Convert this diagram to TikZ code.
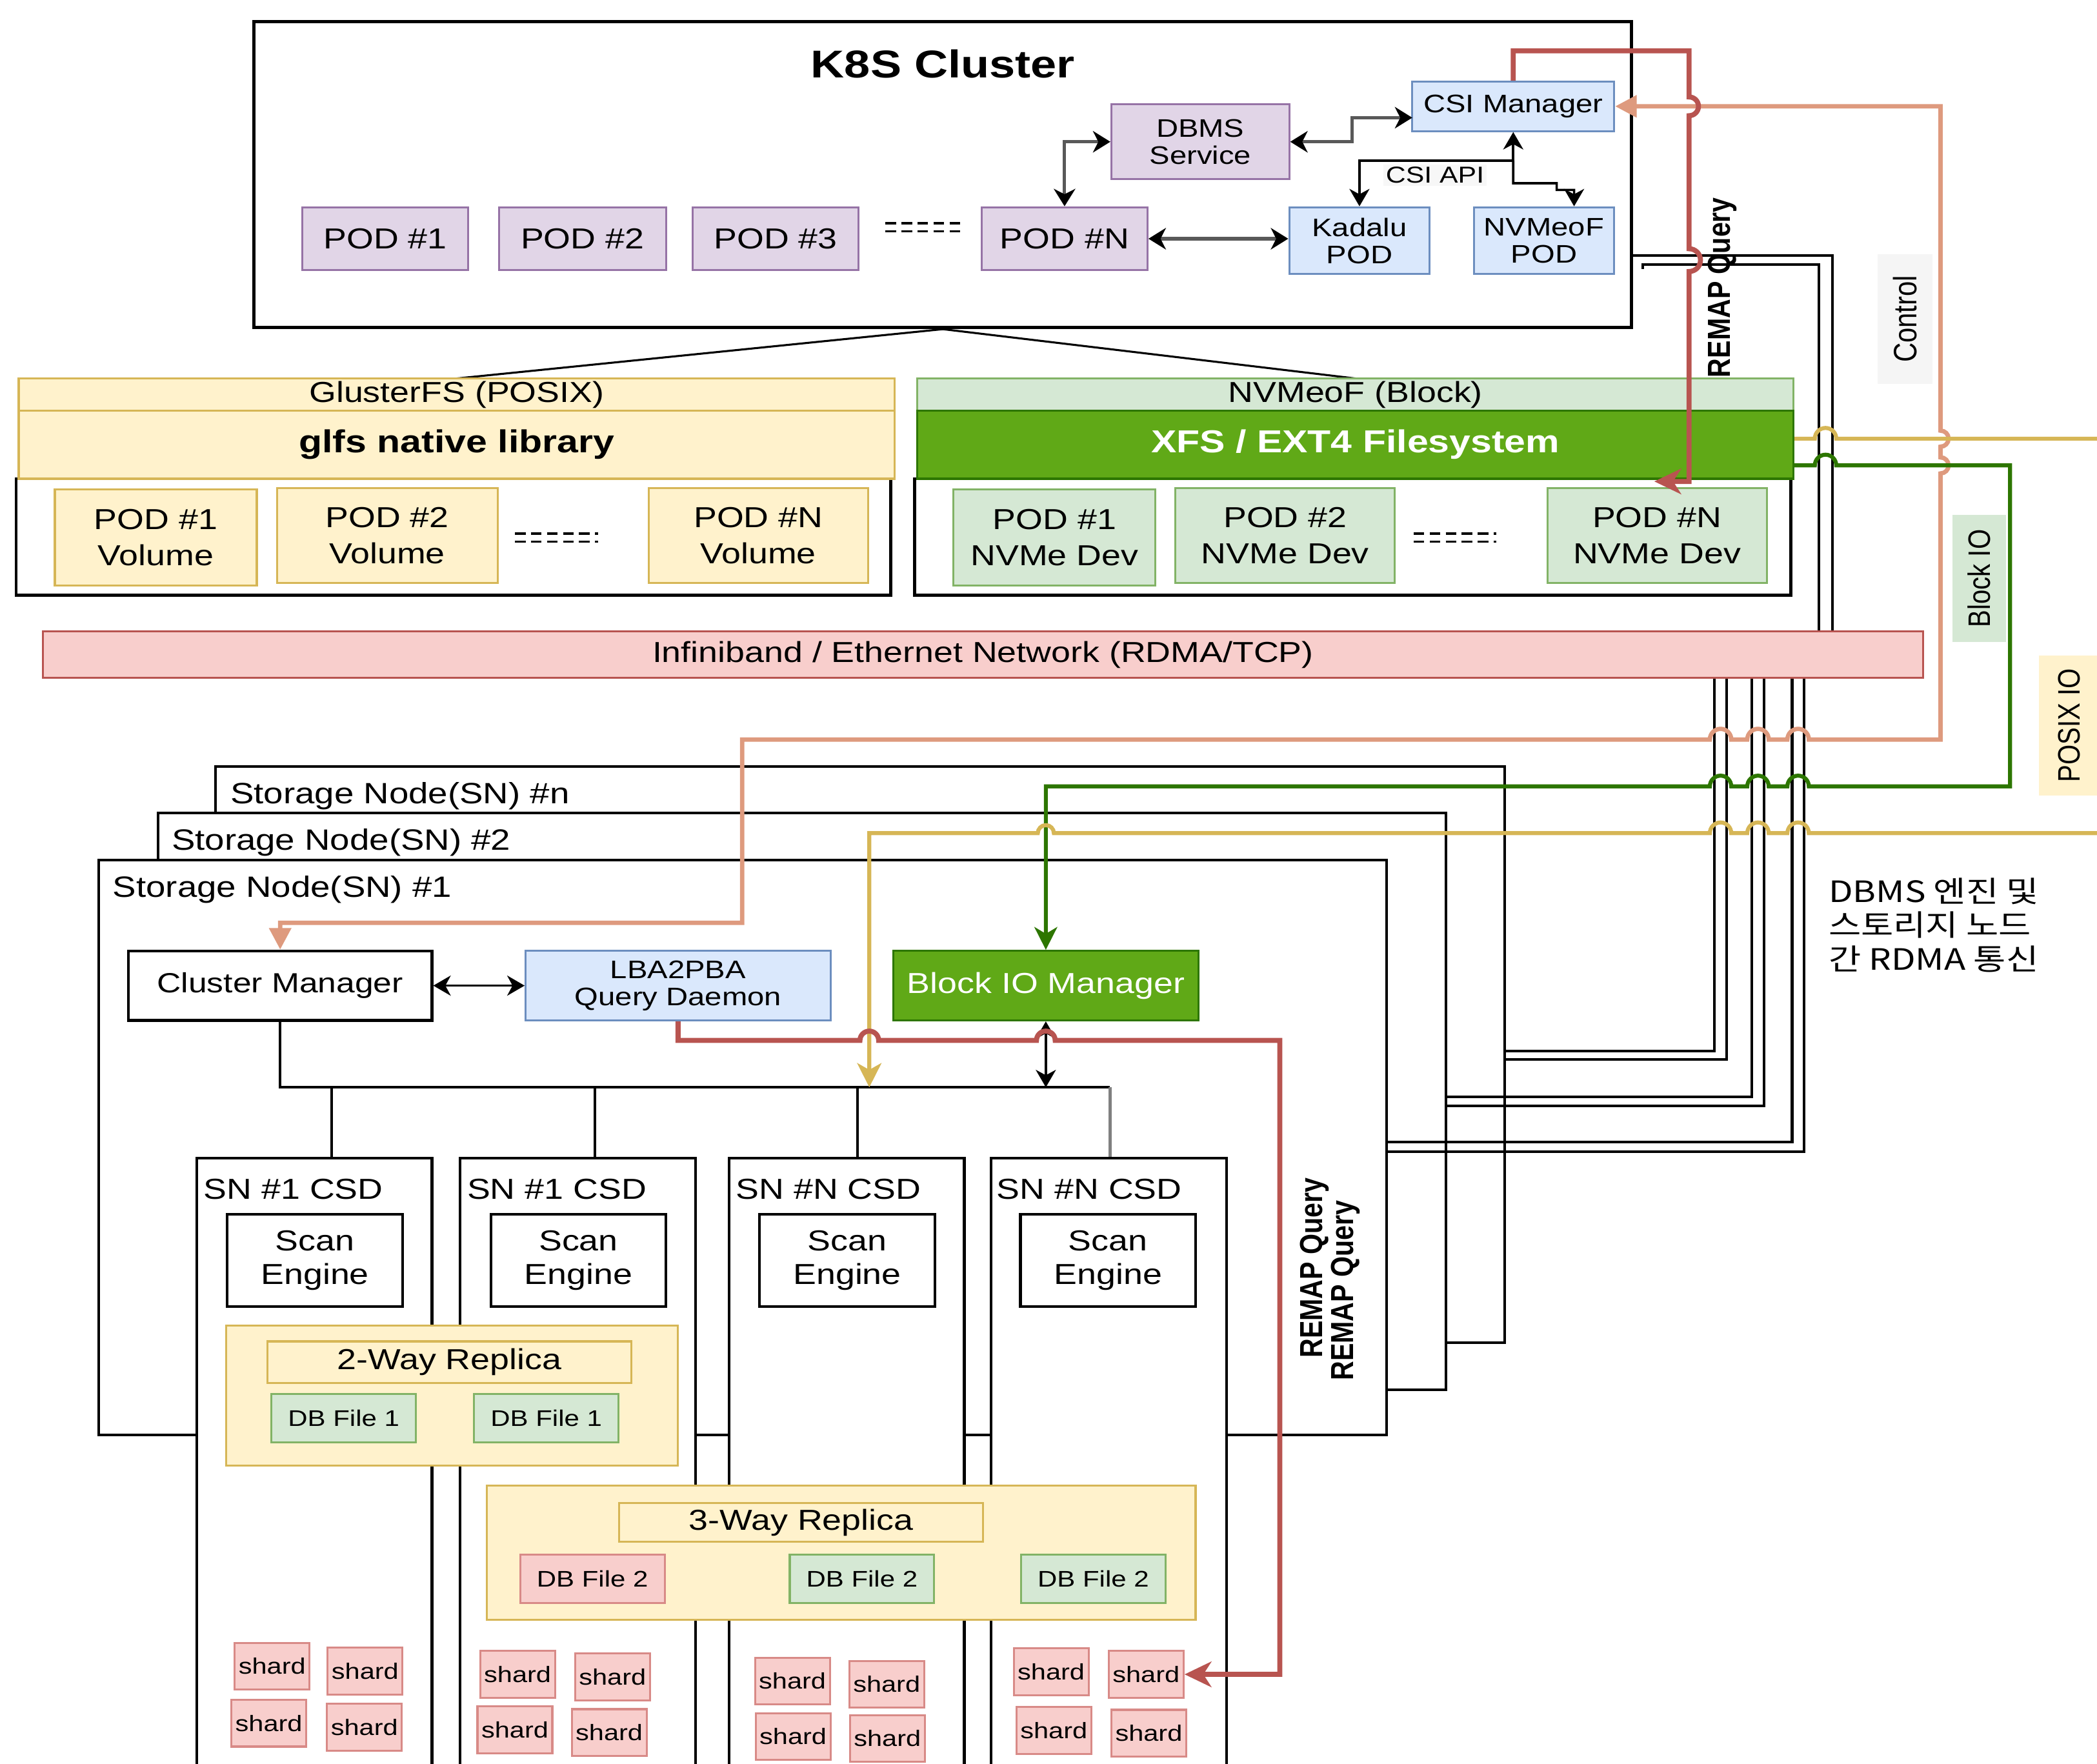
\documentclass[tikz,border=0pt]{standalone}
\usepackage{fontspec}
\usepackage{graphicx}
\setmainfont{Liberation Sans}[FakeStretch=1.2]
\newfontfamily\plainsans{Liberation Sans}
\newfontfamily\hangul{Noto Sans CJK KR}[FakeStretch=1.2]
\usetikzlibrary{arrows.meta}

\definecolor{podfill}{HTML}{E1D5E7}
\definecolor{podline}{HTML}{9673A6}
\definecolor{csifill}{HTML}{DAE8FC}
\definecolor{csiline}{HTML}{6C8EBF}
\definecolor{yelfill}{HTML}{FFF2CC}
\definecolor{yelline}{HTML}{D6B656}
\definecolor{grnfill}{HTML}{D5E8D4}
\definecolor{grnline}{HTML}{82B366}
\definecolor{xfsfill}{HTML}{60A917}
\definecolor{xfsline}{HTML}{2D7600}
\definecolor{redfill}{HTML}{F8CECC}
\definecolor{redline}{HTML}{B85450}
\definecolor{shardline}{HTML}{D88A87}
\definecolor{ctrlline}{HTML}{DE9A7E}
\definecolor{taggray}{HTML}{F5F5F5}

\newcommand{\fmain}{\fontsize{12.3}{15.3}\selectfont}
\newcommand{\fsmall}{\fontsize{10.8}{11.6}\selectfont}
\newcommand{\ftiny}{\fontsize{9.5}{11}\selectfont}
\newcommand{\fhead}{\fontsize{13.5}{16}\selectfont}

\tikzset{
  sz/.style 2 args={minimum width=#1*0.2mm, minimum height=#2*0.2mm},
  box/.style={rectangle, draw, line width=0.3mm, inner xsep=1pt, inner ysep=0pt, align=center, font=\fmain},
  pod/.style={box, fill=podfill, draw=podline},
  bluebox/.style={box, fill=csifill, draw=csiline, font=\fsmall},
  yelbox/.style={box, fill=yelfill, draw=yelline},
  grnbox/.style={box, fill=grnfill, draw=grnline},
  xfsbox/.style={box, fill=xfsfill, draw=xfsline, text=white, font=\bfseries\fhead},
  redbox/.style={box, fill=redfill, draw=redline},
  blackbox/.style={box, fill=white, draw=black, line width=0.4mm},
  shard/.style={box, fill=redfill, draw=shardline, font=\ftiny, sz={56}{35}},
  dbfile/.style={box, font=\fontsize{9.6}{11}\selectfont, sz={108}{36}},
  vtag/.style={rotate=90, inner sep=0pt, font=\plainsans\fontsize{11}{13}\selectfont}
}

\begin{document}
\begin{tikzpicture}[x=0.2mm, y=-0.2mm, font=\fmain, >={Stealth[length=2.6mm,width=3mm,inset=0.8mm]}]
  \tikzstyle{kline}=[line width=0.5mm, black!65, >={Stealth[color=black,length=2.6mm,width=3.2mm,inset=0.8mm]}]
  \tikzstyle{thinarrow}=[line width=0.35mm, black]
  \tikzstyle{rdma}=[line width=0.4mm, black]
  \tikzstyle{dotrow}=[line width=0.35mm, dash pattern=on 1.6mm off 0.8mm]
  \tikzstyle{remappath}=[draw=redline, line width=0.75mm, -{Stealth[length=4mm,width=3.8mm,inset=1.2mm]}]
  \tikzstyle{ctrlpath}=[draw=ctrlline, line width=0.65mm, {Triangle[length=3.2mm,width=3.2mm]}-{Triangle[length=3.2mm,width=3.2mm]}]
  \tikzstyle{blockpath}=[draw=xfsline, line width=0.6mm, -{Stealth[length=3.4mm,width=3.4mm,inset=1mm]}]
  \tikzstyle{posixpath}=[draw=yelline, line width=0.6mm, -{Stealth[length=3.6mm,width=3.6mm,inset=1mm]}]

  \useasboundingbox (0,0) rectangle (1568,1319);
  \clip (0,0) rectangle (1568,1319);

  % K8S cluster
  \node[blackbox, line width=0.45mm, sz={1030}{229}] (k8s) at (705,130.5) {};
  \node[font=\bfseries\fontsize{16.5}{18}\selectfont] (k8s_t) at (705,48) {K8S Cluster};
  \node[pod, font=\fsmall, sz={133}{56}] (dbms) at (897.5,106) {DBMS\\Service};
  \node[bluebox, sz={151}{37}] (csimgr) at (1131.5,79.5) {CSI Manager};
  \node[pod, sz={124}{47}] (pod_1) at (288,178.5) {POD \#1};
  \node[pod, sz={125}{47}] (pod_2) at (435.5,178.5) {POD \#2};
  \node[pod, sz={124}{47}] (pod_3) at (580,178.5) {POD \#3};
  \node[pod, sz={124}{47}] (pod_n) at (796,178.5) {POD \#N};
  \node[bluebox, sz={105}{50}] (kadalu) at (1016.5,180) {Kadalu\\POD};
  \node[bluebox, sz={105}{50}] (nvpod) at (1154.5,180) {NVMeoF\\POD};
  \draw[dotrow] (662,167) -- (722,167);
  \draw[dotrow] (662,173) -- (722,173);

  \draw[kline, <->] (pod_n.east) -- (pod_n.east -| kadalu.west);
  \draw[kline, <->] (dbms.west) -| (pod_n.north);
  \coordinate (csi_in) at (1056,88);
  \draw[kline, <->] (dbms.east) -- (1011,106) |- (csi_in);
  \coordinate (api) at (1131.5,120);
  \draw[thinarrow, <->] (csimgr.south) -- (api) -| (kadalu.north);
  \draw[thinarrow, ->] (api) -- (1131.5,137) -- (1164,137) -- (1164,142) -- (1177,142) -- ([xshift=4.5mm]nvpod.north);
  \node[fill=gray!6, inner sep=1pt, font=\fontsize{9.8}{11}\selectfont] (api_t) at (1073,131) {CSI API};

  % GlusterFS side
  \draw[line width=0.3mm] (k8s.south) -- (341.5,283);
  \draw[line width=0.3mm] (k8s.south) -- (1013.5,283);
  \node[blackbox, line width=0.45mm, sz={654}{87}] (gl_box) at (339,401.5) {};
  \node[yelbox, sz={655}{24}] (gl_head) at (341.5,295) {GlusterFS (POSIX)};
  \node[yelbox, sz={655}{51}, font=\bfseries\fhead] (gl_lib) at (341.5,332.5) {glfs native library};
  \node[yelbox, sz={151}{72}] (vol_1) at (116.5,402) {POD \#1\\Volume};
  \node[yelbox, sz={165}{71}] (vol_2) at (289.5,400.5) {POD \#2\\Volume};
  \node[yelbox, sz={164}{71}] (vol_n) at (567,400.5) {POD \#N\\Volume};
  \draw[dotrow] (385,399) -- (447,399);
  \draw[dotrow] (385,405) -- (447,405);

  % NVMeoF side
  \node[blackbox, line width=0.45mm, sz={655}{87}] (nv_box) at (1011.5,401.5) {};
  \node[grnbox, sz={655}{24}] (nv_head) at (1013.5,295) {NVMeoF (Block)};
  \node[xfsbox, sz={655}{51}] (xfs) at (1013.5,332.5) {XFS / EXT4 Filesystem};
  \node[grnbox, sz={151}{72}] (dev_1) at (788.5,402) {POD \#1\\NVMe Dev};
  \node[grnbox, sz={164}{71}] (dev_2) at (961,400.5) {POD \#2\\NVMe Dev};
  \node[grnbox, sz={164}{71}] (dev_n) at (1239,400.5) {POD \#N\\NVMe Dev};
  \draw[dotrow] (1057,399) -- (1119,399);
  \draw[dotrow] (1057,405) -- (1119,405);

  \node[redbox, sz={1406}{35}] (ib) at (735,489.5) {Infiniband / Ethernet Network (RDMA/TCP)};

  % side tags
  \node[vtag, fill=taggray, sz={97}{41}, font=\plainsans\fontsize{11.5}{13}\selectfont] (ctrl_t) at (1424.5,238.5) {\scalebox{1}[1.2]{Control}};
  \node[vtag, fill=grnfill, sz={95}{40}] (blk_t) at (1480,432.5) {\scalebox{1}[1.2]{Block IO}};
  \node[vtag, fill=yelfill, sz={105}{45}] (posix_t) at (1547,542.5) {\scalebox{1}[1.2]{POSIX IO}};
  \node[vtag, font=\plainsans\bfseries\fontsize{11.3}{13}\selectfont] (remap_k) at (1288,215) {\scalebox{1}[1.2]{REMAP Query}};
  \node[anchor=north west, align=left, inner sep=0pt, font=\hangul\fontsize{12.5}{14.5}\selectfont] (note) at (1367,656) {DBMS 엔진 및\\스토리지 노드\\간 RDMA 통신};

  % storage nodes
  \node[blackbox, sz={964}{431}] (sn_n) at (643,788.5) {};
  \node[anchor=west, inner sep=0pt, font=\fontsize{12.5}{15}\selectfont] (sn_nt) at (172,595) {Storage Node(SN) \#n};
  \node[blackbox, sz={963}{431}] (sn_2) at (599.5,823.5) {};
  \node[anchor=west, inner sep=0pt, font=\fontsize{12.5}{15}\selectfont] (sn_2t) at (128,630) {Storage Node(SN) \#2};
  \node[blackbox, sz={963}{430}] (sn_1) at (555.5,858) {};
  \node[anchor=west, inner sep=0pt, font=\fontsize{12.5}{15}\selectfont] (sn_1t) at (84,665) {Storage Node(SN) \#1};

  \node[blackbox, sz={227}{52}, font=\fontsize{11.8}{14}\selectfont] (clmgr) at (209.5,737) {Cluster Manager};
  \node[bluebox, sz={228}{52}] (lba) at (507,737) {LBA2PBA\\Query Daemon};
  \node[xfsbox, font=\fmain, sz={228}{52}] (blk_mgr) at (782,737) {Block IO Manager};
  \draw[thinarrow, <->] (clmgr.east) -- (lba.west);

  % computational storage devices
  \node[blackbox, sz={176}{474}] (csd_1) at (235,1103) {};
  \node[blackbox, sz={176}{474}] (csd_2) at (432,1103) {};
  \node[blackbox, sz={176}{474}] (csd_3) at (633,1103) {};
  \node[blackbox, sz={176}{474}] (csd_4) at (829,1103) {};
  \node[anchor=west, inner sep=0pt] (csd_1t) at (152,889) {SN \#1 CSD};
  \node[anchor=west, inner sep=0pt] (csd_2t) at (349,889) {SN \#1 CSD};
  \node[anchor=west, inner sep=0pt] (csd_3t) at (550,889) {SN \#N CSD};
  \node[anchor=west, inner sep=0pt] (csd_4t) at (745,889) {SN \#N CSD};
  \node[blackbox, sz={131}{69}, font=\fontsize{12.3}{14.2}\selectfont] (scan_1) at (235.5,942.5) {Scan\\Engine};
  \node[blackbox, sz={131}{69}, font=\fontsize{12.3}{14.2}\selectfont] (scan_2) at (432.5,942.5) {Scan\\Engine};
  \node[blackbox, sz={131}{69}, font=\fontsize{12.3}{14.2}\selectfont] (scan_3) at (633.5,942.5) {Scan\\Engine};
  \node[blackbox, sz={131}{69}, font=\fontsize{12.3}{14.2}\selectfont] (scan_4) at (828.5,942.5) {Scan\\Engine};

  \coordinate (bus_r) at (830,813);
  \draw[line width=0.4mm] (clmgr.south) |- (bus_r);
  \draw[line width=0.4mm] ([xshift=2.6mm]csd_1.north) |- (bus_r);
  \draw[line width=0.4mm] ([xshift=2.6mm]csd_2.north) |- (bus_r);
  \draw[line width=0.4mm] ([xshift=1.6mm]csd_3.north) |- (bus_r);
  \draw[line width=0.5mm, gray] (bus_r) -- ([xshift=0.2mm]csd_4.north);
  \draw[thinarrow, <->] (blk_mgr.south) -- (blk_mgr.south |- bus_r);

  % replicas
  \node[yelbox, sz={338}{105}] (rep_2) at (338,1043.5) {};
  \node[yelbox, sz={272}{31}] (rep_2t) at (336,1018.5) {2-Way Replica};
  \node[dbfile, fill=grnfill, draw=grnline] (db_1a) at (257,1060.5) {DB File 1};
  \node[dbfile, fill=grnfill, draw=grnline] (db_1b) at (408.5,1060.5) {DB File 1};
  \node[yelbox, sz={530}{100}] (rep_3) at (629,1161) {};
  \node[yelbox, sz={272}{29}] (rep_3t) at (599,1138.5) {3-Way Replica};
  \node[dbfile, fill=redfill, draw=shardline] (db_2a) at (443,1180.5) {DB File 2};
  \node[dbfile, fill=grnfill, draw=grnline] (db_2b) at (644.5,1180.5) {DB File 2};
  \node[dbfile, fill=grnfill, draw=grnline] (db_2c) at (817.5,1180.5) {DB File 2};

  % shards
  \node[shard] (sh_11) at (203.5,1246) {shard};
  \node[shard] (sh_12) at (273,1249.5) {shard};
  \node[shard] (sh_13) at (201,1288.5) {shard};
  \node[shard] (sh_14) at (272.5,1291.5) {shard};
  \node[shard] (sh_21) at (387,1252) {shard};
  \node[shard] (sh_22) at (458,1254) {shard};
  \node[shard] (sh_23) at (385,1293.5) {shard};
  \node[shard] (sh_24) at (455.5,1295.5) {shard};
  \node[shard] (sh_31) at (592.5,1257) {shard};
  \node[shard] (sh_32) at (663,1259.5) {shard};
  \node[shard] (sh_33) at (593,1298.5) {shard};
  \node[shard] (sh_34) at (663.5,1300) {shard};
  \node[shard] (sh_41) at (786,1250) {shard};
  \node[shard] (sh_42) at (857,1252) {shard};
  \node[shard] (sh_43) at (788,1294) {shard};
  \node[shard] (sh_44) at (859,1296) {shard};

  \node[vtag, font=\plainsans\bfseries\fontsize{11.3}{13}\selectfont] (remap_a) at (983,948) {\scalebox{1}[1.2]{REMAP Query}};
  \node[vtag, font=\plainsans\bfseries\fontsize{11.3}{13}\selectfont] (remap_b) at (1006,965) {\scalebox{1}[1.2]{REMAP Query}};

  % RDMA links between DBMS engine and storage nodes
  \draw[rdma] ([yshift=-12.1mm]k8s.east) -| ([xshift=127mm]ib.north);
  \draw[rdma] ([xshift=1.4mm,yshift=-14.1mm]k8s.east) -- ([xshift=1.4mm,yshift=-13.5mm]k8s.east) -| ([xshift=125mm]ib.north);
  \draw[rdma] ([xshift=109.4mm]ib.south) |- ([yshift=0.5mm]sn_n.east);
  \draw[rdma] ([xshift=111.2mm]ib.south) |- ([yshift=-0.7mm]sn_n.east);
  \draw[rdma] ([xshift=115mm]ib.south) |- ([yshift=0.7mm]sn_2.east);
  \draw[rdma] ([xshift=116.8mm]ib.south) |- ([yshift=-0.7mm]sn_2.east);
  \draw[rdma] ([xshift=121mm]ib.south) |- ([yshift=0.8mm]sn_1.east);
  \draw[rdma] ([xshift=122.8mm]ib.south) |- ([yshift=-0.6mm]sn_1.east);

  % control path
  \draw[ctrlpath] (csimgr.east) -- (1451,79.5) -- (1451,322) arc (-90:90:6) -- (1451,342) arc (-90:90:6)
    -- (1451,553) -- (1352.5,553) arc (0:-180:8) -- (1322.5,553) arc (0:-180:8) -- (1294.5,553) arc (0:-180:8)
    -- (555,553) -- (555,690) -- (209.5,690) -- (clmgr.north);

  % block IO path
  \draw[blockpath] ([yshift=-3.1mm]xfs.east) -- (1357,348) arc (180:360:8) -- (1503,348) -- (1503,588)
    -- (1352.5,588) arc (0:-180:8) -- (1322.5,588) arc (0:-180:8) -- (1294.5,588) arc (0:-180:8)
    -- (782,588) -- (blk_mgr.north);

  % POSIX IO path
  \coordinate (posix_a) at (1575,328);
  \coordinate (posix_b) at (1575,623);
  \coordinate (posix_in) at (650,813);
  \draw[draw=yelline, line width=0.6mm] ([yshift=0.9mm]xfs.east) -- (1357,328) arc (180:360:8) -- (posix_a);
  \draw[posixpath] (posix_b) -- (1352.5,623) arc (0:-180:8) -- (1322.5,623) arc (0:-180:8) -- (1294.5,623) arc (0:-180:8)
    -- (788,623) arc (0:-180:6) -- (650,623) -- (posix_in);

  % REMAP query paths
  \coordinate (remap_in) at (1237,360);
  \draw[remappath] (csimgr.north) -- (1131.5,38) -- (1263,38) -- (1263,72.5) arc (-90:90:7)
    -- (1263,186) arc (-90:90:8.5) -- (1263,360) -- (remap_in);
  \draw[remappath] (lba.south) -- (507,778) -- (643,778) arc (180:360:7) -- (775,778) arc (180:360:7)
    -- (957,778) -- (957,1252) -- (sh_42.east);
\end{tikzpicture}
\end{document}
